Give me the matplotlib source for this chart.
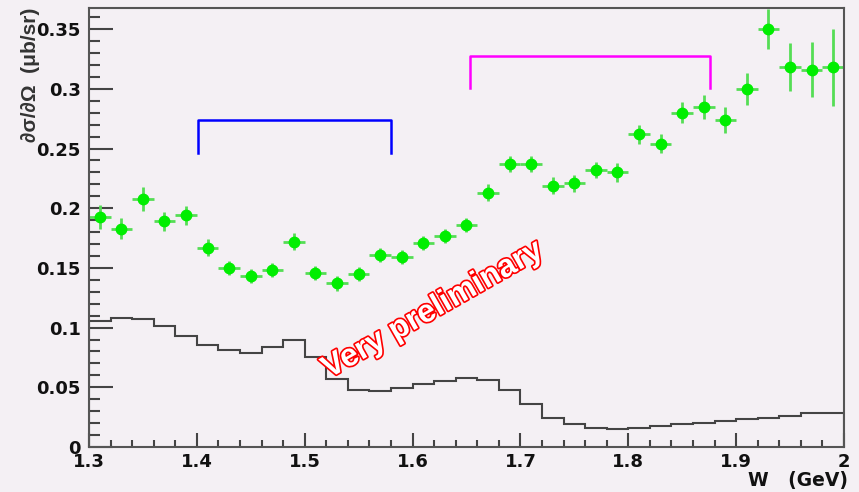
import matplotlib
matplotlib.use("Agg")
import matplotlib.pyplot as plt
import matplotlib.patheffects as pe
import numpy as np

plt.rcParams['font.family'] = ['DejaVu Sans']

# measured points, bins of 0.02 GeV
w = [1.31, 1.33, 1.35, 1.37, 1.39, 1.41, 1.43, 1.45, 1.47, 1.49,
     1.51, 1.53, 1.55, 1.57, 1.59, 1.61, 1.63, 1.65, 1.67, 1.69,
     1.71, 1.73, 1.75, 1.77, 1.79, 1.81, 1.83, 1.85, 1.87, 1.89,
     1.91, 1.93, 1.95, 1.97, 1.99]
xsec = [0.193, 0.183, 0.208, 0.189, 0.194, 0.167, 0.150, 0.143, 0.148, 0.172,
        0.146, 0.137, 0.145, 0.161, 0.159, 0.171, 0.177, 0.186, 0.213, 0.237,
        0.237, 0.219, 0.221, 0.232, 0.230, 0.262, 0.254, 0.280, 0.285, 0.274,
        0.300, 0.350, 0.318, 0.316, 0.318]
err = [0.010, 0.009, 0.010, 0.008, 0.008, 0.007, 0.006, 0.006, 0.006, 0.007,
       0.006, 0.006, 0.006, 0.006, 0.006, 0.006, 0.006, 0.006, 0.007, 0.007,
       0.007, 0.007, 0.007, 0.007, 0.008, 0.008, 0.008, 0.009, 0.010, 0.011,
       0.0135, 0.017, 0.020, 0.023, 0.032]
xerr = 0.01

# model histogram (bin edges 1.30 .. 2.00)
edges = [1.30, 1.32, 1.34, 1.36, 1.38, 1.40, 1.42, 1.44, 1.46, 1.48,
         1.50, 1.52, 1.54, 1.56, 1.58, 1.60, 1.62, 1.64, 1.66, 1.68,
         1.70, 1.72, 1.74, 1.76, 1.78, 1.80, 1.82, 1.84, 1.86, 1.88,
         1.90, 1.92, 1.94, 1.96, 1.98, 2.00]
model = [0.1055, 0.1078, 0.107, 0.1013, 0.093, 0.0857, 0.0812, 0.079, 0.084, 0.0898,
         0.0756, 0.0567, 0.0477, 0.0469, 0.0491, 0.0525, 0.0556, 0.058, 0.0561, 0.0477,
         0.0357, 0.024, 0.019, 0.0162, 0.0154, 0.0162, 0.0176, 0.019, 0.0204, 0.0218,
         0.0232, 0.0246, 0.0263, 0.0282, 0.0288]

# region brackets
blue_x = [1.401, 1.401, 1.580, 1.580]
blue_y = [0.2465, 0.274, 0.274, 0.2465]
mag_x = [1.653, 1.653, 1.876, 1.876]
mag_y = [0.3004, 0.3275, 0.3275, 0.3004]

bg = '#f4f0f4'
fig = plt.figure(figsize=(8.59, 4.92), dpi=100, facecolor=bg)
ax = fig.add_axes([0.1036, 0.0915, 0.8789, 0.8922], facecolor=bg)

ax.stairs(model, edges, color='#444444', lw=1.5)

ax.errorbar(w, xsec, yerr=err, xerr=xerr, fmt='none', ecolor='#55dd55', elinewidth=2.0, capsize=0)
ax.plot(w, xsec, 'o', color='#00ee00', ms=7.5, mec='#00ee00')

ax.plot(blue_x, blue_y, color='#0000ff', lw=1.8)
ax.plot(mag_x, mag_y, color='#ff00ff', lw=1.8)

ax.text(1.619, 0.1147, 'Very preliminary', color='white', fontsize=23, fontweight='bold',
        family='Liberation Sans', rotation=29.7, ha='center', va='center',
        path_effects=[pe.withStroke(linewidth=2.4, foreground='#ff0000')])

ax.set_xlim(1.3, 2.0)
ax.set_ylim(0, 0.3677)
ax.set_xticks(np.arange(1.3, 2.01, 0.1))
ax.set_xticklabels(['1.3', '1.4', '1.5', '1.6', '1.7', '1.8', '1.9', '2'])
ax.set_xticks(np.arange(1.3, 2.0, 0.02), minor=True)
ax.set_yticks(np.arange(0, 0.36, 0.05))
ax.set_yticklabels(['0', '0.05', '0.1', '0.15', '0.2', '0.25', '0.3', '0.35'])
ax.set_yticks(np.arange(0, 0.37, 0.01), minor=True)

ax.tick_params(axis='y', which='major', direction='in', length=17, width=1.5, color='#444444',
               labelsize=13, pad=6)
ax.tick_params(axis='y', which='minor', direction='in', length=8, width=1.5, color='#444444')
ax.tick_params(axis='x', which='major', direction='in', length=10, width=1.5, color='#444444',
               labelsize=13, pad=4)
ax.tick_params(axis='x', which='minor', direction='in', length=5, width=1.5, color='#444444')
for lab in ax.get_xticklabels() + ax.get_yticklabels():
    lab.set_fontweight('bold')
    lab.set_color('#111111')

for s in ax.spines.values():
    s.set_color('#555555')
    s.set_linewidth(1.5)

fig.text(0.036, 0.985, '\u2202\u03c3/\u2202\u03a9  (\u03bcb/sr)', rotation=90,
         ha='center', va='top', fontsize=15, color='#333333', family='Liberation Sans',
         fontweight='bold')
fig.text(0.987, 0.024, 'W   (GeV)', ha='right', va='center', fontsize=13.5,
         fontweight='bold', color='#111111')

fig.savefig('out.png', dpi=100, facecolor=bg)
